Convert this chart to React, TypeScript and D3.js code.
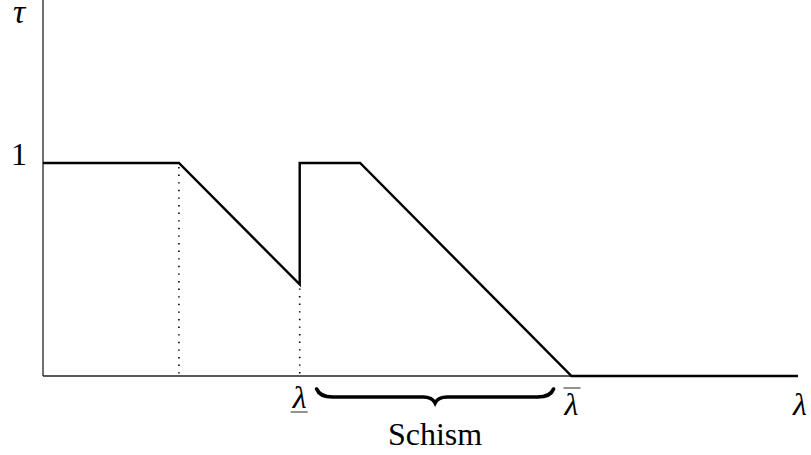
import React from "react";
import { scaleLinear, line } from "d3";

// piecewise curve of tau against lambda (lambda in 0..100 units)
const lambdaValues = [0, 18, 34, 34, 42, 70, 100];
const tauValues = [1, 1, 0.43, 1, 1, 0, 0];

// dotted guides dropped from the kinks to the axis
const guideLambda = [18, 34];
const guideTau = [1, 0.43];

// labels
const yTickValues = [1];
const yTickLabels = ["1"];
const lowerLambda = 34;
const upperLambda = 70;
const schismLabel = "Schism";

const W = 811;
const H = 455;

export default function App() {
  const x = scaleLinear().domain([0, 100]).range([43, 798]);
  const y = scaleLinear().domain([0, 1]).range([376, 163]);

  const pts: [number, number][] = lambdaValues.map((l, i) => [l, tauValues[i]]);
  const pathGen = line<[number, number]>()
    .x((d) => x(d[0]))
    .y((d) => y(d[1]));

  // curly brace between the two thresholds
  const bx0 = x(lowerLambda) + 17;
  const bx1 = x(upperLambda) - 18;
  const bm = (bx0 + bx1) / 2;
  const top = 389;
  const body = 397;
  const tip = 403;
  const brace =
    `M${bx0},${top} Q${bx0 + 3},${body} ${bx0 + 16},${body} ` +
    `L${bm - 12},${body} Q${bm - 3},${body} ${bm},${tip} ` +
    `Q${bm + 3},${body} ${bm + 12},${body} ` +
    `L${bx1 - 16},${body} Q${bx1 - 3},${body} ${bx1},${top}`;

  const serif = "'Liberation Serif', 'DejaVu Serif', serif";

  return (
    <svg
      width={W}
      height={H}
      style={{ position: "absolute", left: 0, top: 0, background: "#fff" }}
    >
      {/* axes */}
      <line x1={x(0)} x2={x(0)} y1={0} y2={y(0)} stroke="#222" strokeWidth={1.3} />
      <line x1={x(0)} x2={x(100)} y1={y(0)} y2={y(0)} stroke="#222" strokeWidth={1.3} />

      {/* dotted guides */}
      {guideLambda.map((l, i) => (
        <line
          key={i}
          x1={x(l)}
          x2={x(l)}
          y1={y(guideTau[i]) + 4}
          y2={y(0)}
          stroke="#000"
          strokeWidth={1.6}
          strokeDasharray="1.4 6.2"
        />
      ))}

      {/* curve */}
      <path
        d={pathGen(pts) || ""}
        fill="none"
        stroke="#000"
        strokeWidth={2.4}
        strokeLinejoin="miter"
      />

      {/* y labels */}
      <text x={19} y={23} fontFamily={serif} fontStyle="italic" fontSize={34} textAnchor="middle">
        τ
      </text>
      {yTickValues.map((v, i) => (
        <text key={i} x={19} y={y(v) + 2} fontFamily={serif} fontSize={32} textAnchor="middle">
          {yTickLabels[i]}
        </text>
      ))}

      {/* x labels */}
      <text x={x(lowerLambda)} y={408} fontFamily={serif} fontStyle="italic" fontSize={32} textAnchor="middle">
        λ
      </text>
      <line x1={x(lowerLambda) - 9} x2={x(lowerLambda) + 8} y1={412} y2={412} stroke="#555" strokeWidth={1.3} />

      <text x={x(upperLambda)} y={415} fontFamily={serif} fontStyle="italic" fontSize={32} textAnchor="middle">
        λ
      </text>
      <line x1={x(upperLambda) - 8} x2={x(upperLambda) + 9} y1={388} y2={388} stroke="#555" strokeWidth={1.3} />

      <text x={800} y={415} fontFamily={serif} fontStyle="italic" fontSize={32} textAnchor="middle">
        λ
      </text>

      {/* brace + label */}
      <path d={brace} fill="none" stroke="#000" strokeWidth={3.6} strokeLinecap="round" />
      <text x={bm} y={445} fontFamily={serif} fontSize={32} textAnchor="middle">
        {schismLabel}
      </text>
    </svg>
  );
}
